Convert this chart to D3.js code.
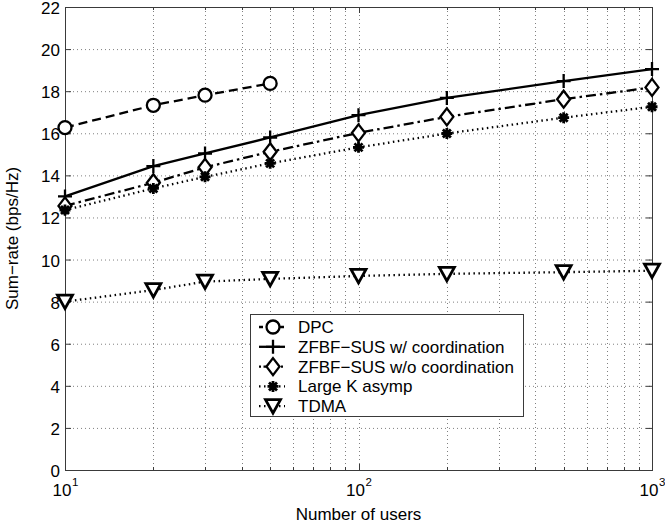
<!DOCTYPE html>
<html>
<head>
<meta charset="utf-8">
<script src="https://cdn.jsdelivr.net/npm/d3@7"></script>
<style>
  html, body { margin: 0; padding: 0; background: #fff; }
  svg { display: block; }
  text { font-family: "Liberation Sans", Arial, Helvetica, sans-serif; fill: #000; }
</style>
</head>
<body>
<svg id="chart" width="665" height="529"></svg>
<script>
// Number of users (x) and sum-rate results (bps/Hz) for each scheme
const users = [10, 20, 30, 50, 100, 200, 500, 1000];
const dpcUsers = [10, 20, 30, 50];
const dpc = [16.27, 17.33, 17.81, 18.37];
const zfbfCoord = [13.0, 14.44, 15.04, 15.8, 16.86, 17.68, 18.48, 19.05];
const zfbfNoCoord = [12.55, 13.65, 14.38, 15.12, 16.02, 16.78, 17.62, 18.18];
const largeK = [12.35, 13.38, 13.93, 14.57, 15.33, 15.99, 16.74, 17.26];
const tdma = [8.0, 8.55, 8.95, 9.08, 9.22, 9.32, 9.4, 9.47];

const yTicks = [0, 2, 4, 6, 8, 10, 12, 14, 16, 18, 20, 22];
const xDecades = [10, 100, 1000];
const xDecadeExp = ["1", "2", "3"];
const legendLabels = ["DPC", "ZFBF\u2212SUS w/ coordination", "ZFBF\u2212SUS w/o coordination", "Large K asymp", "TDMA"];

const svg = d3.select("#chart");
const m = { left: 65, right: 652, top: 7, bottom: 470 };
const fs = 17;

const x = d3.scaleLog().domain([10, 1000]).range([m.left, m.right]);
const y = d3.scaleLinear().domain([0, 22]).range([m.bottom, m.top]);

const axisColor = "#3a3a3a";

// minor log ticks between decades
const minorX = [];
for (let d = 10; d < 1000; d *= 10) for (let k = 2; k <= 9; k++) minorX.push(k * d);

// grid
const grid = svg.append("g").attr("stroke", "#808080").attr("stroke-width", 1)
  .attr("stroke-dasharray", "1,3").attr("fill", "none");
grid.selectAll(".gy").data(yTicks.slice(1, -1)).join("line")
  .attr("x1", m.left).attr("x2", m.right)
  .attr("y1", d => y(d) + 0.5).attr("y2", d => y(d) + 0.5);
grid.selectAll(".gx").data(minorX.concat([100])).join("line")
  .attr("y1", m.top).attr("y2", m.bottom)
  .attr("x1", d => Math.round(x(d)) + 0.5).attr("x2", d => Math.round(x(d)) + 0.5);

// axes with inward ticks on all four sides
const axG = svg.append("g").attr("stroke", axisColor).attr("stroke-width", 1);
axG.append("rect").attr("x", m.left + 0.5).attr("y", m.top + 0.5)
  .attr("width", m.right - m.left).attr("height", m.bottom - m.top).attr("fill", "none");
yTicks.forEach(t => {
  const yy = y(t) + 0.5;
  axG.append("line").attr("x1", m.left).attr("x2", m.left + 6).attr("y1", yy).attr("y2", yy);
  axG.append("line").attr("x1", m.right).attr("x2", m.right - 6).attr("y1", yy).attr("y2", yy);
});
xDecades.forEach(t => {
  const xx = Math.round(x(t)) + 0.5;
  axG.append("line").attr("x1", xx).attr("x2", xx).attr("y1", m.bottom).attr("y2", m.bottom - 6);
  axG.append("line").attr("x1", xx).attr("x2", xx).attr("y1", m.top).attr("y2", m.top + 6);
});
minorX.forEach(t => {
  const xx = Math.round(x(t)) + 0.5;
  axG.append("line").attr("x1", xx).attr("x2", xx).attr("y1", m.bottom).attr("y2", m.bottom - 3);
  axG.append("line").attr("x1", xx).attr("x2", xx).attr("y1", m.top).attr("y2", m.top + 3);
});

// tick labels
svg.append("g").selectAll("text").data(yTicks).join("text")
  .attr("x", m.left - 5).attr("y", d => y(d) + 7)
  .attr("text-anchor", "end").attr("font-size", fs).text(d => d);

const xl = svg.append("g").selectAll("g").data(xDecades).join("g")
  .attr("transform", d => `translate(${x(d)},496)`);
xl.append("text").attr("x", -3).attr("text-anchor", "middle").attr("font-size", fs).text("10");
xl.append("text").attr("x", 7).attr("y", -10).attr("text-anchor", "start").attr("font-size", 11.5)
  .text((d, i) => xDecadeExp[i]);

// axis titles
svg.append("text").attr("x", (m.left + m.right) / 2).attr("y", 520)
  .attr("text-anchor", "middle").attr("font-size", fs).text("Number of users");
svg.append("text").attr("transform", `translate(18,${(m.top + m.bottom) / 2}) rotate(-90)`)
  .attr("text-anchor", "middle").attr("font-size", fs).text("Sum\u2212rate (bps/Hz)");

// marker shapes
function drawMarker(g, type, cx, cy) {
  const s = g.append("g").attr("transform", `translate(${cx},${cy})`)
    .attr("stroke", "#000").attr("stroke-width", 2.3).attr("fill", "none");
  if (type === "circle") {
    s.append("circle").attr("r", 6.5).attr("fill", "#fff");
  } else if (type === "plus") {
    s.append("path").attr("d", "M-7,0H7M0,-7V7");
  } else if (type === "diamond") {
    s.append("path").attr("d", "M0,-8.5L6.5,0L0,8.5L-6.5,0Z").attr("fill", "#fff");
  } else if (type === "star") {
    s.append("path").attr("d", "M-5.5,0H5.5M0,-5.5V5.5M-4,-4L4,4M-4,4L4,-4").attr("stroke-width", 2.8);
  } else if (type === "tri") {
    s.append("path").attr("d", "M-7.5,-6.5L7.5,-6.5L0,7Z").attr("fill", "#fff").attr("stroke-width", 2.8);
  }
}

const series = [
  { xs: dpcUsers, ys: dpc, dash: "9,5", marker: "circle" },
  { xs: users, ys: zfbfCoord, dash: null, marker: "plus" },
  { xs: users, ys: zfbfNoCoord, dash: "10,4,2.5,4", marker: "diamond" },
  { xs: users, ys: largeK, dash: "1.5,3.5", marker: "star" },
  { xs: users, ys: tdma, dash: "1.5,3.5", marker: "tri" }
];

const line = d3.line().x(d => x(d[0])).y(d => y(d[1]));
const plot = svg.append("g");
series.forEach(s => {
  const pts = s.xs.map((u, i) => [u, s.ys[i]]);
  plot.append("path").datum(pts).attr("d", line)
    .attr("fill", "none").attr("stroke", "#000").attr("stroke-width", 2.3)
    .attr("stroke-dasharray", s.dash);
});
series.forEach(s => {
  s.xs.forEach((u, i) => drawMarker(plot, s.marker, x(u), y(s.ys[i])));
});

// legend
const lg = svg.append("g");
lg.append("rect").attr("x", 250.5).attr("y", 314.5).attr("width", 273).attr("height", 102)
  .attr("fill", "#fff").attr("stroke", axisColor).attr("stroke-width", 1);
series.forEach((s, i) => {
  const cy = 327 + i * 19.8;
  lg.append("line").attr("x1", 259).attr("x2", 285).attr("y1", cy).attr("y2", cy)
    .attr("stroke", "#000").attr("stroke-width", 2.3).attr("stroke-dasharray", s.dash ? (s.marker === "circle" ? "4,3" : s.marker === "diamond" ? "2,2.5,4,2.5" : "1.5,3.5") : null);
  drawMarker(lg, s.marker, 273, cy);
  lg.append("text").attr("x", 298).attr("y", cy + 6).attr("font-size", fs).text(legendLabels[i]);
});
</script>
</body>
</html>
